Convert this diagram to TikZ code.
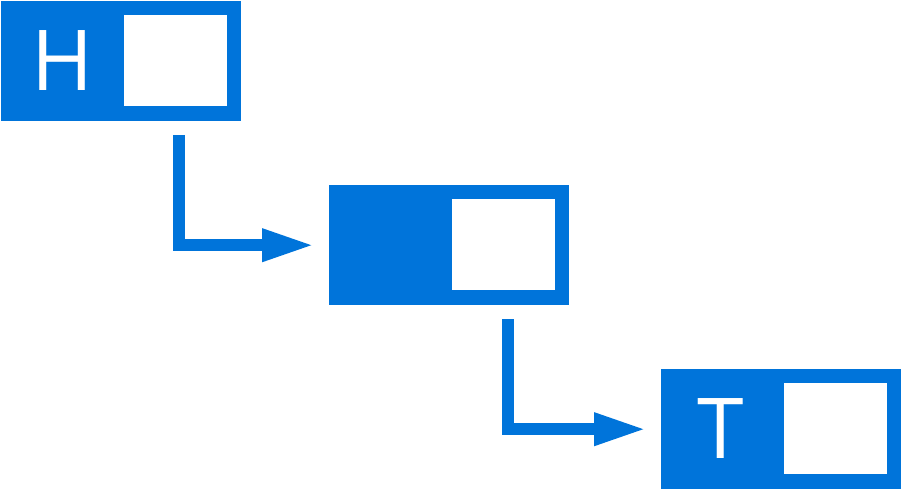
\documentclass[tikz,border=0pt]{standalone}
\usepackage{fontspec}
\setmainfont{Open Sans}
\usetikzlibrary{arrows.meta}
\definecolor{mblue}{HTML}{0074DA}
\begin{document}
\begin{tikzpicture}[x=1pt,y=-1pt,
  outer/.style={fill=mblue,draw=none,minimum width=240pt,minimum height=120pt,inner sep=0pt,anchor=north west},
  inner/.style={fill=white,draw=none,minimum width=103pt,minimum height=91pt,inner sep=0pt,anchor=north west},
  lbl/.style={text=white,font=\fontsize{84}{84}\selectfont,inner sep=0pt},
  conn/.style={draw=mblue,line width=12pt,-{Triangle[length=53pt,width=30pt]},shorten >=14pt}]
\useasboundingbox (0,0) rectangle (901,489);
\node[outer] (b1) at (1,1) {};
\node[inner] (i1) at (124,15) {};
\node[lbl] (h) at (62,61) {H};
\node[outer] (b2) at (329,185) {};
\node[inner] (i2) at (452,199) {};
\node[outer] (b3) at (661,369) {};
\node[inner] (i3) at (784,383) {};
\node[lbl] (t) at (721,429) {T};
\coordinate (s1) at (179,135);
\coordinate (s2) at (508,319);
\draw[conn] (s1) |- (b2.west);
\draw[conn] (s2) |- (b3.west);
\end{tikzpicture}
\end{document}
